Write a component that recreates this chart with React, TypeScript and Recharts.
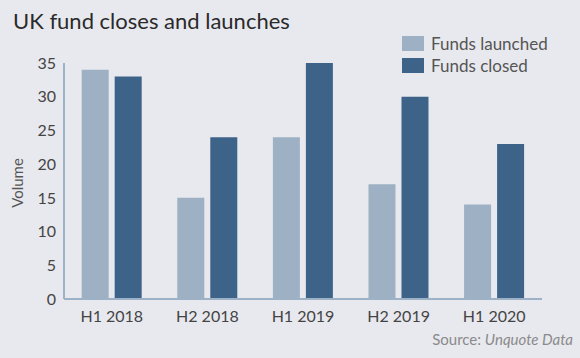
import { BarChart, Bar, XAxis, YAxis, Legend } from "recharts"

const periods = ["H1 2018", "H2 2018", "H1 2019", "H2 2019", "H1 2020"]
const fundsLaunched = [34, 15, 24, 17, 14]
const fundsClosed = [33, 24, 35, 30, 23]
const volumeTicks = [0, 5, 10, 15, 20, 25, 30, 35]

const LIGHT = "#9eb0c3"
const DARK = "#3d6388"
const BG = "#e8e9ee"
const AXIS = "#9db2c6"
const FONT = "Lato, 'Open Sans', sans-serif"

const data = periods.map((p, i) => ({
  period: p,
  launched: fundsLaunched[i],
  closed: fundsClosed[i],
}))

const legendItems = [
  { label: "Funds launched", color: LIGHT },
  { label: "Funds closed", color: DARK },
]

const LegendBox = () => (
  <div style={{ fontFamily: FONT }}>
    {legendItems.map((it) => (
      <div
        key={it.label}
        style={{ display: "flex", alignItems: "center", height: 22, color: "#555", fontSize: 17 }}
      >
        <span style={{ width: 22, height: 15, background: it.color, marginRight: 7, display: "inline-block" }} />
        <span>{it.label}</span>
      </div>
    ))}
  </div>
)

const VolumeLabel = (props: any) => {
  const vb = props.viewBox || {}
  const x = vb.x + 17
  const y = vb.y + vb.height / 2 + 2
  return (
    <text
      x={x}
      y={y}
      transform={`rotate(-90, ${x}, ${y})`}
      textAnchor="middle"
      dominantBaseline="central"
      fill="#555"
      fontSize={15}
      fontFamily={FONT}
    >
      Volume
    </text>
  )
}

export default function App() {
  return (
    <div
      style={{
        position: "absolute",
        left: 0,
        top: 0,
        width: 580,
        height: 358,
        background: BG,
        fontFamily: FONT,
        overflow: "hidden",
      }}
    >
      <div
        style={{
          position: "absolute",
          left: 13,
          top: 10,
          fontSize: 22,
          lineHeight: 1,
          color: "#2a2a2a",
          whiteSpace: "nowrap",
        }}
      >
        UK fund closes and launches
      </div>
      <BarChart
        width={580}
        height={358}
        data={data}
        margin={{ top: 63, right: 38, left: 0, bottom: 0 }}
        barGap={6}
        barCategoryGap="18.5%"
      >
        <XAxis
          dataKey="period"
          height={59}
          axisLine={{ stroke: AXIS, strokeWidth: 2 }}
          tickLine={false}
          tickMargin={6}
          tick={{ fill: "#444", fontSize: 16, fontFamily: FONT }}
        />
        <YAxis
          width={64}
          domain={[0, 35]}
          ticks={volumeTicks}
          interval={0}
          axisLine={{ stroke: AXIS, strokeWidth: 2 }}
          tickLine={false}
          tick={{ fill: "#444", fontSize: 16, fontFamily: FONT }}
          label={<VolumeLabel />}
        />
        <Legend
          layout="vertical"
          align="center"
          verticalAlign="middle"
          wrapperStyle={{ position: "absolute", left: 402, top: 32, width: 170 }}
          content={() => <LegendBox />}
        />
        <Bar dataKey="launched" name="Funds launched" fill={LIGHT} isAnimationActive={false} />
        <Bar dataKey="closed" name="Funds closed" fill={DARK} isAnimationActive={false} />
      </BarChart>
      <div
        style={{
          position: "absolute",
          right: 7,
          top: 332,
          fontSize: 15,
          lineHeight: 1,
          color: "#8a8a8a",
          whiteSpace: "nowrap",
        }}
      >
        Source: <i>Unquote Data</i>
      </div>
    </div>
  )
}
